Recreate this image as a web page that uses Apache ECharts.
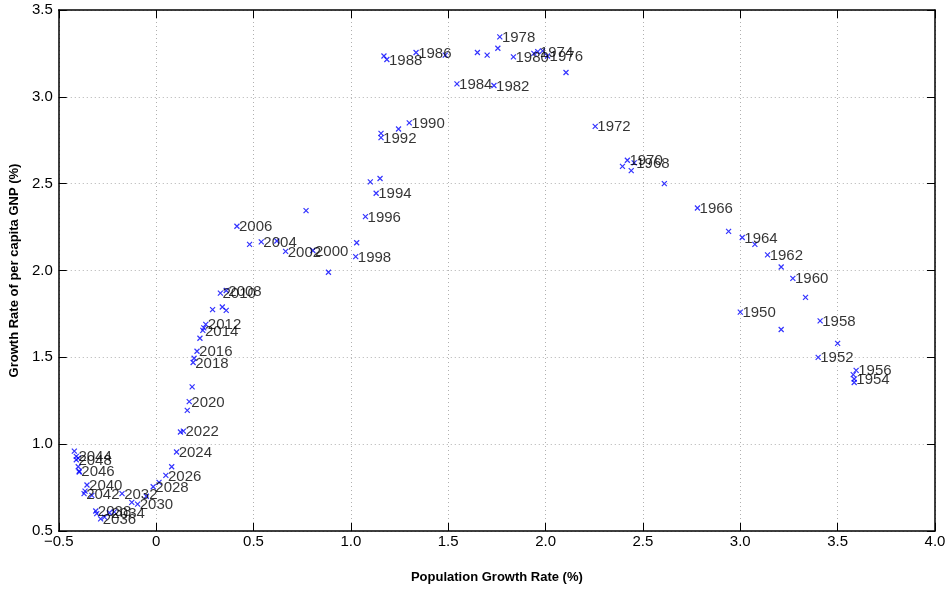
<!DOCTYPE html>
<html>
<head>
<meta charset="utf-8">
<script src="https://cdn.jsdelivr.net/npm/echarts@6/dist/echarts.min.js"></script>
<style>
  html, body { margin: 0; padding: 0; background: #fff; }
  #chart { width: 949px; height: 589px; }
</style>
</head>
<body>
<div id="chart"></div>
<script>
// Years of the projection, one point per year
const years = [
  1950, 1951, 1952, 1953, 1954, 1955, 1956, 1957, 1958, 1959,
  1960, 1961, 1962, 1963, 1964, 1965, 1966, 1967, 1968, 1969,
  1970, 1971, 1972, 1973, 1974, 1975, 1976, 1977, 1978, 1979,
  1980, 1981, 1982, 1983, 1984, 1985, 1986, 1987, 1988, 1989,
  1990, 1991, 1992, 1993, 1994, 1995, 1996, 1997, 1998, 1999,
  2000, 2001, 2002, 2003, 2004, 2005, 2006, 2007, 2008, 2009,
  2010, 2011, 2012, 2013, 2014, 2015, 2016, 2017, 2018, 2019,
  2020, 2021, 2022, 2023, 2024, 2025, 2026, 2027, 2028, 2029,
  2030, 2031, 2032, 2033, 2034, 2035, 2036, 2037, 2038, 2039,
  2040, 2041, 2042, 2043, 2044, 2045, 2046, 2047, 2048, 2049
];

// Population growth rate (%)
const popGrowth = [
  3.00, 3.21, 3.40, 3.50, 3.585, 3.585, 3.595, 3.58, 3.41, 3.335,
  3.27, 3.21, 3.14, 3.075, 3.01, 2.94, 2.78, 2.61, 2.455, 2.44,
  2.42, 2.395, 2.255, 2.105, 1.96, 1.985, 2.01, 1.94, 1.765, 1.755,
  1.835, 1.65, 1.735, 1.70, 1.545, 1.485, 1.335, 1.17, 1.185, 1.245,
  1.30, 1.155, 1.155, 1.15, 1.13, 1.10, 1.075, 1.03, 1.025, 0.885,
  0.805, 0.77, 0.665, 0.62, 0.54, 0.48, 0.415, 0.36, 0.36, 0.34,
  0.33, 0.29, 0.255, 0.245, 0.24, 0.225, 0.21, 0.195, 0.19, 0.185,
  0.17, 0.16, 0.14, 0.125, 0.105, 0.08, 0.05, 0.015, -0.015, -0.05,
  -0.095, -0.125, -0.175, -0.215, -0.24, -0.265, -0.285, -0.305, -0.31, -0.33,
  -0.355, -0.365, -0.37, -0.395, -0.41, -0.42, -0.395, -0.40, -0.41, -0.40
];

// Growth rate of per capita GNP (%)
const gnpGrowth = [
  1.76, 1.66, 1.50, 1.58, 1.375, 1.355, 1.425, 1.40, 1.71, 1.845,
  1.955, 2.02, 2.09, 2.15, 2.19, 2.225, 2.36, 2.50, 2.62, 2.575,
  2.635, 2.60, 2.83, 3.14, 3.26, 3.265, 3.235, 3.25, 3.345, 3.28,
  3.23, 3.255, 3.065, 3.24, 3.075, 3.24, 3.255, 3.235, 3.215, 2.815,
  2.85, 2.79, 2.765, 2.53, 2.445, 2.51, 2.31, 2.16, 2.08, 1.99,
  2.115, 2.345, 2.11, 2.17, 2.165, 2.15, 2.255, 1.77, 1.885, 1.79,
  1.87, 1.775, 1.69, 1.67, 1.655, 1.61, 1.535, 1.495, 1.47, 1.33,
  1.245, 1.195, 1.075, 1.07, 0.955, 0.87, 0.82, 0.78, 0.755, 0.70,
  0.655, 0.665, 0.715, 0.61, 0.605, 0.58, 0.57, 0.60, 0.615, 0.705,
  0.765, 0.73, 0.715, 0.84, 0.93, 0.96, 0.845, 0.87, 0.91, 0.92
];

// Axis ranges and ticks
const xMin = -0.5, xMax = 4.0, xStep = 0.5;
const yMin = 0.5, yMax = 3.5, yStep = 0.5;

const points = years.map((yr, i) => [popGrowth[i], gnpGrowth[i], yr]);

const chart = echarts.init(document.getElementById('chart'), null, { renderer: 'canvas' });

const font = '"Liberation Sans", Helvetica, Arial, sans-serif';
const gridLine = { show: true, lineStyle: { color: '#b0b0b0', type: [1, 3], width: 1 } };
const boxLine = { show: true, onZero: false, lineStyle: { color: '#000', width: 1.5 } };
const inTicks = { show: true, inside: true, length: 8, lineStyle: { color: '#000', width: 1 } };

function fmtX(v) {
  if (Math.abs(v) < 1e-9) return '0';
  return v < 0 ? '\u2212' + Math.abs(v).toFixed(1) : v.toFixed(1);
}

chart.setOption({
  animation: false,
  backgroundColor: '#fff',
  grid: { left: 52, right: 14, top: 10, bottom: 57, containLabel: false },
  xAxis: [
    {
      type: 'value', min: xMin, max: xMax, interval: xStep,
      name: 'Population Growth Rate (%)',
      nameLocation: 'middle', nameGap: 40,
      nameTextStyle: { fontFamily: font, fontSize: 13, fontWeight: 'bold', color: '#000' },
      axisLine: boxLine, axisTick: inTicks, splitLine: gridLine,
      axisLabel: { fontFamily: font, fontSize: 15, color: '#000', margin: 3, formatter: fmtX }
    },
    {
      type: 'value', min: xMin, max: xMax, interval: xStep, position: 'top',
      axisLine: boxLine, axisTick: inTicks, splitLine: { show: false },
      axisLabel: { show: false }
    }
  ],
  yAxis: [
    {
      type: 'value', min: yMin, max: yMax, interval: yStep,
      name: 'Growth Rate of per capita GNP (%)',
      nameLocation: 'middle', nameGap: 31, nameRotate: 90,
      nameTextStyle: { fontFamily: font, fontSize: 13, fontWeight: 'bold', color: '#000' },
      axisLine: boxLine, axisTick: inTicks, splitLine: gridLine,
      axisLabel: { fontFamily: font, fontSize: 15, color: '#000', margin: 6,
                   formatter: v => v.toFixed(1) }
    },
    {
      type: 'value', min: yMin, max: yMax, interval: yStep, position: 'right',
      axisLine: boxLine, axisTick: inTicks, splitLine: { show: false },
      axisLabel: { show: false }
    }
  ],
  series: [{
    type: 'scatter',
    data: points,
    symbol: 'path://M0,0L10,10M10,0L0,10',
    symbolSize: 5,
    itemStyle: { color: 'rgba(0,0,0,0)', borderColor: '#0000ff', borderWidth: 1.2 },
    label: {
      show: true,
      position: 'right',
      distance: 0,
      offset: [-1, 1],
      fontFamily: font,
      fontSize: 15,
      color: '#000',
      formatter: p => (p.value[2] % 2 === 0 ? String(p.value[2]) : '')
    },
    emphasis: { disabled: true }
  }]
});
</script>
</body>
</html>
